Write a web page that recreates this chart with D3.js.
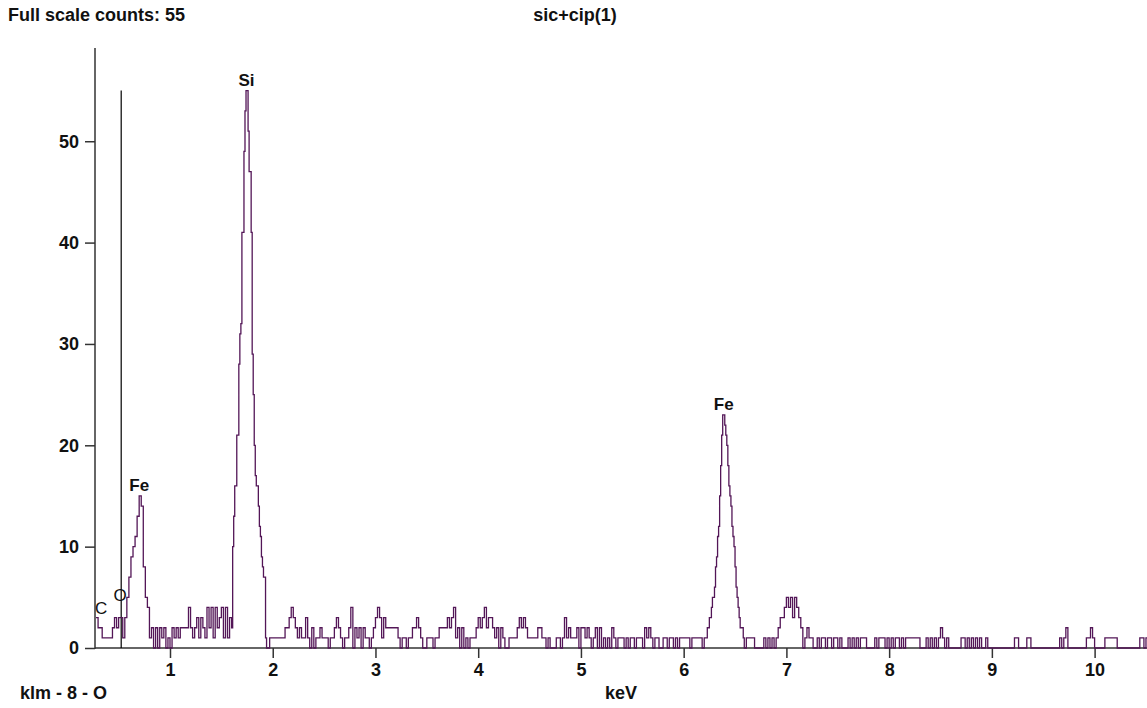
<!DOCTYPE html>
<html>
<head>
<meta charset="utf-8">
<script src="https://cdn.jsdelivr.net/npm/d3@7"></script>
<style>
  html, body { margin: 0; padding: 0; background: #fff; }
  svg { display: block; }
  text { font-family: "Liberation Sans", Arial, sans-serif; fill: #111; }
</style>
</head>
<body>
<svg id="chart" width="1147" height="708"></svg>
<script>
// ---- Data (EDS spectrum, counts per channel) ----
const titleText = "sic+cip(1)";
const fullScaleText = "Full scale counts: 55";
const footerLeft = "klm - 8 - O";
const xAxisLabel = "keV";
const xTickValues = [1, 2, 3, 4, 5, 6, 7, 8, 9, 10];
const yTickValues = [0, 10, 20, 30, 40, 50];

// low-energy region, 0.28 keV, step 0.02 keV
const lowStart = 0.28, lowStep = 0.02;
const lowCounts = [3,2,2,1,1,1,1,1,2,3, 2,3,3,1,3,5,7,9,10,11, 13,15,14,8,5,4,1,2,0,2,
  0,2,1,2,0,1,0,2,1,2, 1,2,2,2,2,4,2,1,2,3, 1,3,2,1,4,2,4,1,4,2, 3,4,1,4,1,3];

// Si K peak, 1.60 keV, step 0.01 keV
const siStart = 1.60, siStep = 0.01;
const siCounts = [2,10,13,16,16,21,21,28,31,32, 41,41,49,53,55,55,51,47,47,41,
  29,25,20,17,16,16,14,12,11,9, 8,7,7,1,0,0,0,1];

// mid region, 1.98 keV, step 0.02 keV
const midStart = 1.98, midStep = 0.02;
const midCounts = [1,1,1,1,1,1,1,2,2,3, 4,3,2,1,2,1,1,3,1,0, 2,0,1,1,2,1,1,1,0,1,
  1,2,3,2,1,0,1,1,2,4, 0,2,1,2,0,2,1,1,0,1, 2,3,4,3,1,3,2,2,2,2,
  2,2,1,0,1,1,0,1,1,2, 2,3,2,1,0,0,1,1,1,0, 1,1,2,2,2,2,3,2,3,4,
  1,2,0,2,0,1,0,1,1,1, 2,3,2,3,4,2,3,3,2,1, 2,0,2,1,0,0,1,1,1,1,
  2,3,2,3,2,1,1,1,1,1, 2,2,1,1,0,1,0,0,0,1, 1,0,1,3,1,2,
  1,1,1,2,0,2,2,1,2,1, 0,1,2,0,2,0,1,0,1,0, 2,1,0,1,1,1,0,1,0,1,
  1,0,1,1,1,0,2,1,2,1, 0,1,1,0,0,1,1,0,1,1, 0,1,0,1,1,1,1,1,0,1, 1,1,1,1,0];

// Fe K peak, 6.20 keV, step 0.01 keV
const feStart = 6.20, feStep = 0.01;
const feCounts = [1,1,1,2,2,3,3,4,5,5, 6,8,9,11,12,15,18,21,23,23,
  22,21,20,18,16,15,14,12,11,10, 8,6,5,4,3,2,2,2,1,0, 0,1,1,1,1,1,1,1,1,0];

// high-energy region, 6.70 keV, step 0.02 keV
const highStart = 6.70, highStep = 0.02;
const highCounts = [0,0,0,0,1,0,1,0,1,0, 1,2,3,3,4,5,4,5,3,5, 4,3,2,0,1,2,1,1,0,0,
  1,0,1,1,0,1,1,0,1,1, 0,1,0,0,0,1,0,1,0,1, 0,1,1,1,0,0,0,0,1,0,
  1,1,1,0,1,0,1,0,1,1, 0,1,0,1,1,1,1,1,1,1, 0,0,0,1,0,1,0,1,0,1,
  2,1,0,1,0,0,0,0,0,0, 1,1,0,1,0,1,0,1,0,1, 0,0,1,0,0,0,0,0,0,0,
  0,0,0,0,0,0,1,1,0,0, 0,0,1,1,0,0,0,0,0,0, 0,0,0,0,0,0,0,0,1,0,
  1,2,0,0,0,0,0,0,0,0, 0,1,1,2,1,0,0,0,0,0, 1,1,1,1,1,1,0,0,0,0,
  0,0,0,0,0,0,0,1,1,0, 1,1];

// element labels: name, energy (keV), count level under the label, bold?
const labelNames  = ["C", "O", "Fe", "Si", "Fe"];
const labelKeV    = [0.33, 0.515, 0.70, 1.745, 6.39];
const labelCounts = [2.9, 4.1, 15, 55, 23];
const labelBold   = [false, false, true, true, true];

// marker line (O K) energy and height
const markerKeV = 0.525, markerCounts = 55;

// ---- Build ----
function seg(start, step, arr) {
  return arr.map((c, i) => ({ e: +(start + i * step).toFixed(3), c }));
}
const spectrum = [].concat(
  seg(lowStart, lowStep, lowCounts),
  seg(siStart, siStep, siCounts),
  seg(midStart, midStep, midCounts),
  seg(feStart, feStep, feCounts),
  seg(highStart, highStep, highCounts)
);

const svg = d3.select("#chart");
const plotL = 95, plotR = 1147, plotT = 48, plotB = 648;
const fontMain = "18px", fontLabel = "17px";

const x = d3.scaleLinear().domain([0.27, 10.51]).range([plotL, plotR]);
const y = d3.scaleLinear().domain([0, 59.2]).range([plotB, plotT]);

const axisColor = "#333";

// y axis
const yAxis = d3.axisLeft(y).tickValues(yTickValues).tickSize(10).tickPadding(6).tickFormat(d3.format("d"));
const gy = svg.append("g").attr("transform", `translate(${plotL},0)`).call(yAxis);
gy.select(".domain").remove();
gy.selectAll(".tick line").attr("stroke", axisColor).attr("stroke-width", 1.5);
gy.selectAll(".tick text").style("font-size", fontMain).style("font-weight", "bold")
  .attr("fill", "#111").attr("font-family", "Liberation Sans, Arial, sans-serif");
svg.append("line").attr("x1", plotL).attr("x2", plotL).attr("y1", plotT).attr("y2", plotB + 1)
  .attr("stroke", axisColor).attr("stroke-width", 1.5);

// x axis
const xAxis = d3.axisBottom(x).tickValues(xTickValues).tickSize(10).tickPadding(5).tickFormat(d3.format("d"));
const gx = svg.append("g").attr("transform", `translate(0,${plotB})`).call(xAxis);
gx.select(".domain").remove();
gx.selectAll(".tick line").attr("stroke", axisColor).attr("stroke-width", 1.5);
gx.selectAll(".tick text").style("font-size", fontMain).style("font-weight", "bold")
  .attr("fill", "#111").attr("font-family", "Liberation Sans, Arial, sans-serif");
svg.append("line").attr("x1", plotL).attr("x2", plotR).attr("y1", plotB).attr("y2", plotB)
  .attr("stroke", axisColor).attr("stroke-width", 1.5);

// marker line
svg.append("line")
  .attr("x1", x(markerKeV)).attr("x2", x(markerKeV))
  .attr("y1", y(0)).attr("y2", y(markerCounts))
  .attr("stroke", "#000").attr("stroke-width", 1.2);

// spectrum
const line = d3.line().x(d => x(d.e)).y(d => y(d.c)).curve(d3.curveStepAfter);
svg.append("path").datum(spectrum)
  .attr("d", line).attr("fill", "none")
  .attr("stroke", "#531657").attr("stroke-width", 1.3);

// element labels
labelNames.forEach((n, i) => {
  svg.append("text")
    .attr("x", x(labelKeV[i])).attr("y", y(labelCounts[i]) - 5)
    .attr("text-anchor", "middle")
    .style("font-size", fontLabel)
    .style("font-weight", labelBold[i] ? "bold" : "normal")
    .text(n);
});

// header and footer text
svg.append("text").attr("x", 8).attr("y", 21).style("font-size", fontMain).style("font-weight", "bold").text(fullScaleText);
svg.append("text").attr("x", 575).attr("y", 21).attr("text-anchor", "middle").style("font-size", fontMain).style("font-weight", "bold").text(titleText);
svg.append("text").attr("x", 20).attr("y", 699).style("font-size", fontMain).style("font-weight", "bold").text(footerLeft);
svg.append("text").attr("x", 621).attr("y", 699).attr("text-anchor", "middle").style("font-size", fontMain).style("font-weight", "bold").text(xAxisLabel);
</script>
</body>
</html>
